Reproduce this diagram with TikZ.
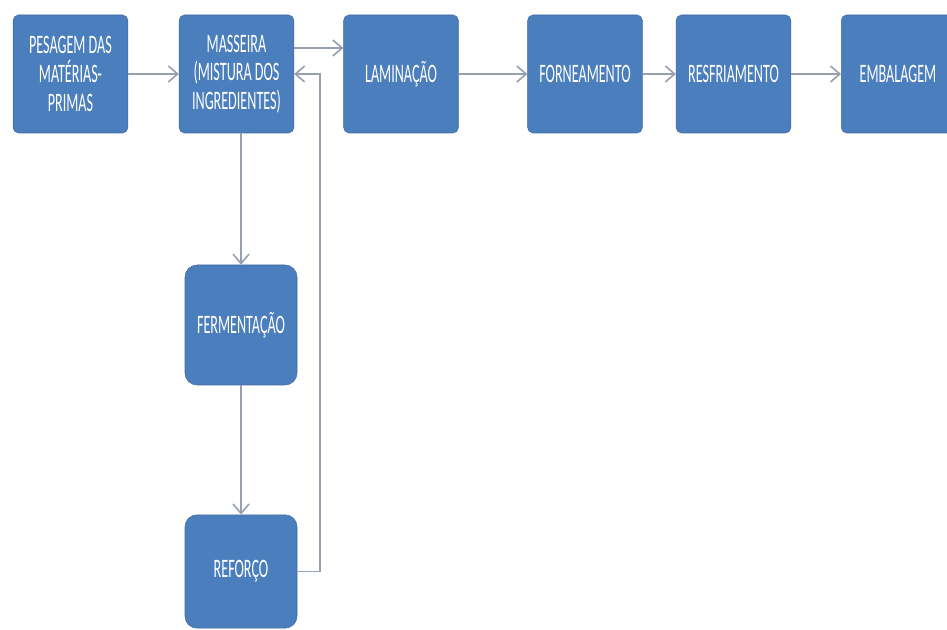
\documentclass[tikz,border=0pt]{standalone}
\usepackage{fontspec}
\newfontfamily\etapafont[FakeStretch=0.53]{Carlito}
\usetikzlibrary{arrows.meta,calc}
\definecolor{azulcaixa}{RGB}{74,126,188}
\definecolor{cinzalinha}{RGB}{150,160,176}

\begin{document}
\begin{tikzpicture}[x=0.75pt,y=-0.75pt,>={Straight Barb[length=7pt,width=12pt]},
  etapa/.style={fill=azulcaixa,draw=azulcaixa!85!black,rounded corners=4pt,
    minimum width=86pt,minimum height=88.5pt,inner sep=2pt,text=white,align=center,
    font=\etapafont\fontsize{20}{21.5}\selectfont},
  etapab/.style={etapa,rounded corners=9pt,minimum width=84pt},
  fluxo/.style={->,draw=cinzalinha,line width=1.2pt}]
\useasboundingbox (0,0) rectangle (947,630);
% linha principal
\node[etapa] (pes) at (70.5,74) {PESAGEM DAS\\MATÉRIAS-\\PRIMAS};
\node[etapa] (mass) at (236.5,74) {MASSEIRA\\(MISTURA DOS\\INGREDIENTES)};
\node[etapa] (lam) at (401,74) {LAMINAÇÃO};
\node[etapa] (forn) at (585,74) {FORNEAMENTO};
\node[etapa] (resf) at (733.5,74) {RESFRIAMENTO};
\node[etapa,minimum width=85pt] (emb) at (898,74) {EMBALAGEM};
% ramo da fermentacao
\node[etapab,minimum height=90pt] (ferm) at (241,325) {FERMENTAÇÃO};
\node[etapab,minimum height=85pt] (refor) at (241,571.5) {REFORÇO};
% setas
\draw[fluxo] (pes) -- (mass);
\draw[fluxo] ($(mass.east)+(0,-26)$) -- ($(lam.west)+(0,-26)$);
\draw[fluxo] (lam) -- (forn);
\draw[fluxo] (forn) -- (resf);
\draw[fluxo] (resf) -- (emb);
\draw[fluxo] (mass.south -| ferm.north) -- (ferm);
\draw[fluxo] (ferm) -- (refor);
\coordinate (volta) at (320,74);
\draw[fluxo] (refor.east) -| (volta) -- (mass.east);
\end{tikzpicture}
\end{document}
